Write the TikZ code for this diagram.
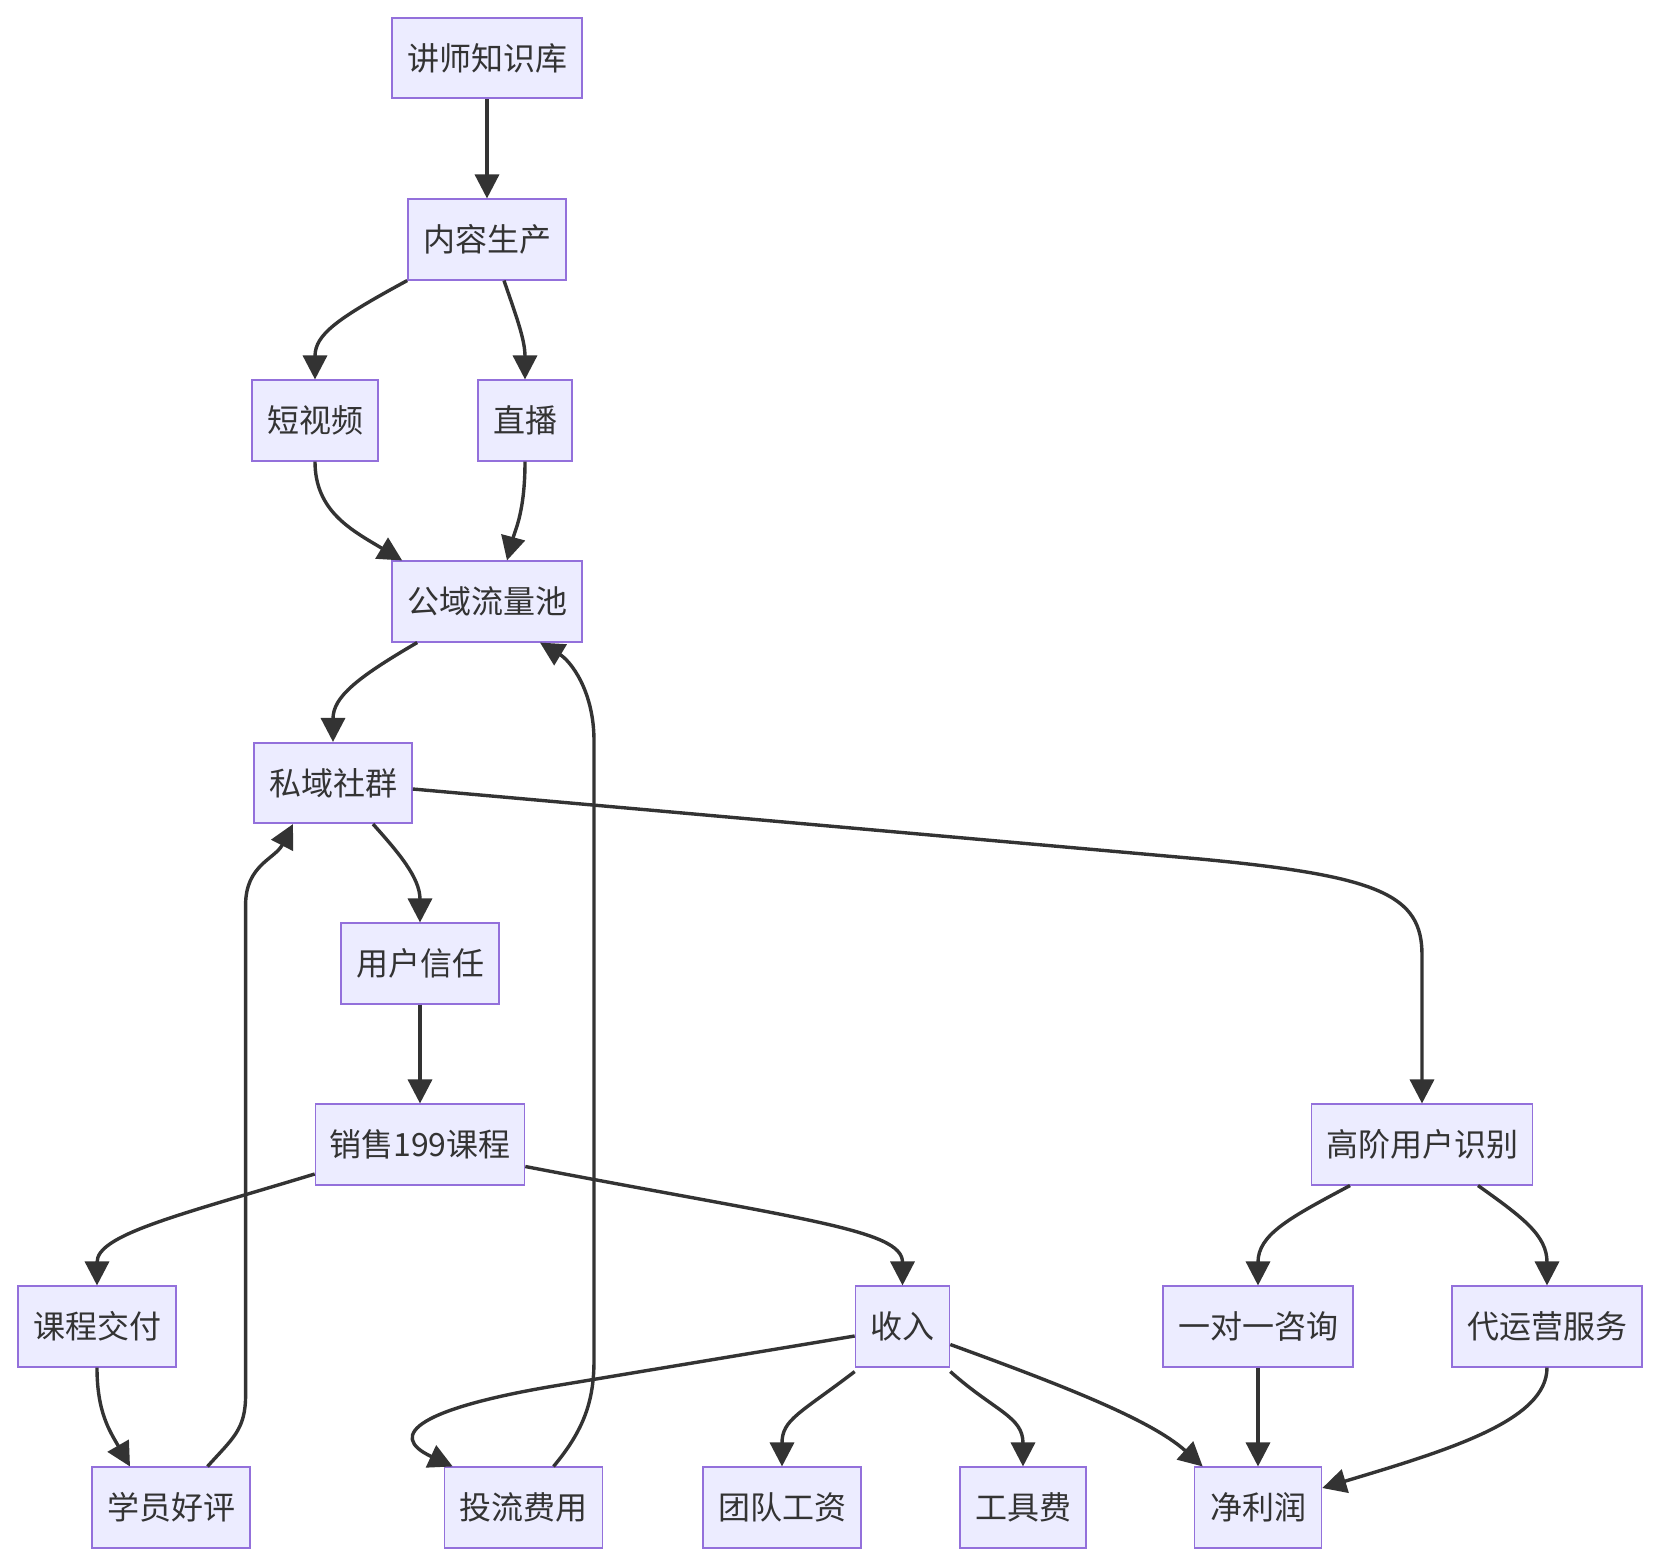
\documentclass[tikz,border=0pt]{standalone}
\usepackage{fontspec}
\setmainfont{Noto Sans CJK SC}
\usetikzlibrary{arrows.meta}
\definecolor{nodefill}{HTML}{ECECFF}
\definecolor{nodeline}{HTML}{9370DB}
\definecolor{edgecol}{HTML}{333333}
\definecolor{txtcol}{HTML}{333333}
\begin{document}
\begin{tikzpicture}[x=1pt,y=-1pt,
  box/.style={draw=nodeline, fill=nodefill, line width=1.6pt, minimum height=80.5pt,
    inner sep=0pt, text=txtcol, font=\fontsize{32pt}{38pt}\selectfont},
  wtwo/.style={minimum width=94pt},
  wthree/.style={minimum width=126pt},
  wfour/.style={minimum width=158pt},
  wfive/.style={minimum width=190pt},
  wsix/.style={minimum width=221pt},
  link/.style={draw=edgecol, line width=3.4pt, -{Triangle[length=24pt,width=24pt]}},
]
\fill[white] (0,0) rectangle (1660,1564);
\useasboundingbox (0,0) rectangle (1660,1564);

\node[box,wfive]  (kb)  at (487,58)      {讲师知识库};
\node[box,wfour]  (cp)  at (487,239.5)   {内容生产};
\node[box,wthree] (sv)  at (315,420.5)   {短视频};
\node[box,wtwo]   (zb)  at (525,420.5)   {直播};
\node[box,wfive]  (gy)  at (487,601.5)   {公域流量池};
\node[box,wfour]  (sy)  at (333,783)     {私域社群};
\node[box,wfour]  (xr)  at (420,963.5)   {用户信任};
\node[box,minimum width=209pt] (xs) at (420,1144.5) {销售199课程};
\node[box,wsix]   (gj)  at (1422,1144.5) {高阶用户识别};
\node[box,wfour]  (jf)  at (97,1326.5)   {课程交付};
\node[box,wtwo]   (sr)  at (902.5,1326.5){收入};
\node[box,wfive]  (yd)  at (1258,1326.5) {一对一咨询};
\node[box,wfive]  (dy)  at (1547,1326.5) {代运营服务};
\node[box,wfour]  (hp)  at (171,1507.5)  {学员好评};
\node[box,wfour]  (tl)  at (523.5,1507.5){投流费用};
\node[box,wfour]  (td)  at (782,1507.5)  {团队工资};
\node[box,wthree] (gjf) at (1023,1507.5) {工具费};
\node[box,minimum width=127pt] (jl) at (1258,1507.5) {净利润};

% edges
\draw[link] (kb.south) -- (cp.north);
\draw[link] (cp.south west) .. controls +(-70,38) and +(0,-45) .. (sv.north);
\draw[link] ([xshift=17pt]cp.south) .. controls +(12,35) and +(0,-40) .. (zb.north);
\draw[link] (sv.south) .. controls +(0,50) and +(-50,-30) .. ([xshift=11pt]gy.north west);
\draw[link] (zb.south) .. controls +(0,50) and +(8,-30) .. ([xshift=20pt]gy.north);
\draw[link] ([xshift=26pt]gy.south west) .. controls +(-60,35) and +(0,-45) .. (sy.north);
\draw[link] ([xshift=40pt]sy.south) .. controls +(25,28) and +(0,-45) .. (xr.north);
\draw[link] ([yshift=-6pt]sy.east) -- (1200,859) .. controls (1380,876) and (1422,895) .. (1422,955) -- (gj.north);
\draw[link] (xr.south) -- (xs.north);
\draw[link] ([yshift=-29.5pt]xs.west) .. controls +(-135,41) and +(0,-51) .. (jf.north);
\draw[link] ([yshift=-22pt]xs.east) .. controls +(276,53) and +(0,-56) .. (sr.north);
\draw[link] (jf.south) .. controls +(0,45) and +(-20,-35) .. ([xshift=-41pt]hp.north);
\draw[link] ([xshift=36.5pt]hp.north) .. controls +(25,-28) and +(0,35) .. (245.6,1395) -- (245.6,905) .. controls +(0,-40) and +(-18,35) .. ([xshift=-40pt]sy.south);
\draw[link] ([yshift=-9.5pt]sr.west) -- (560,1385) .. controls (420,1408) and (385,1435) .. ([xshift=9pt]tl.north west);
\draw[link] ([xshift=30pt]tl.north) .. controls +(31,-37) and +(0,40) .. (594,1360) -- (594,741) .. controls +(0,-51) and +(30,18) .. ([xshift=53pt]gy.south);
\draw[link] ([yshift=-4pt]sr.south west) .. controls +(-55,42) and +(0,-47) .. (td.north);
\draw[link] ([yshift=-4pt]sr.south east) .. controls +(45,40) and +(0,-50) .. (gjf.north);
\draw[link] ([yshift=-18pt]sr.east) .. controls +(110,40) and +(-52,-47) .. ([xshift=9pt]jl.north west);
\draw[link] ([xshift=-72pt]gj.south) .. controls +(-60,32) and +(0,-51) .. (yd.north);
\draw[link] ([xshift=56pt]gj.south) .. controls +(45,32) and +(0,-50) .. (dy.north);
\draw[link] (yd.south) -- (jl.north);
\draw[link] (dy.south) .. controls +(0,53) and +(126.5,-38) .. ([yshift=19.5pt]jl.east);
\end{tikzpicture}
\end{document}
